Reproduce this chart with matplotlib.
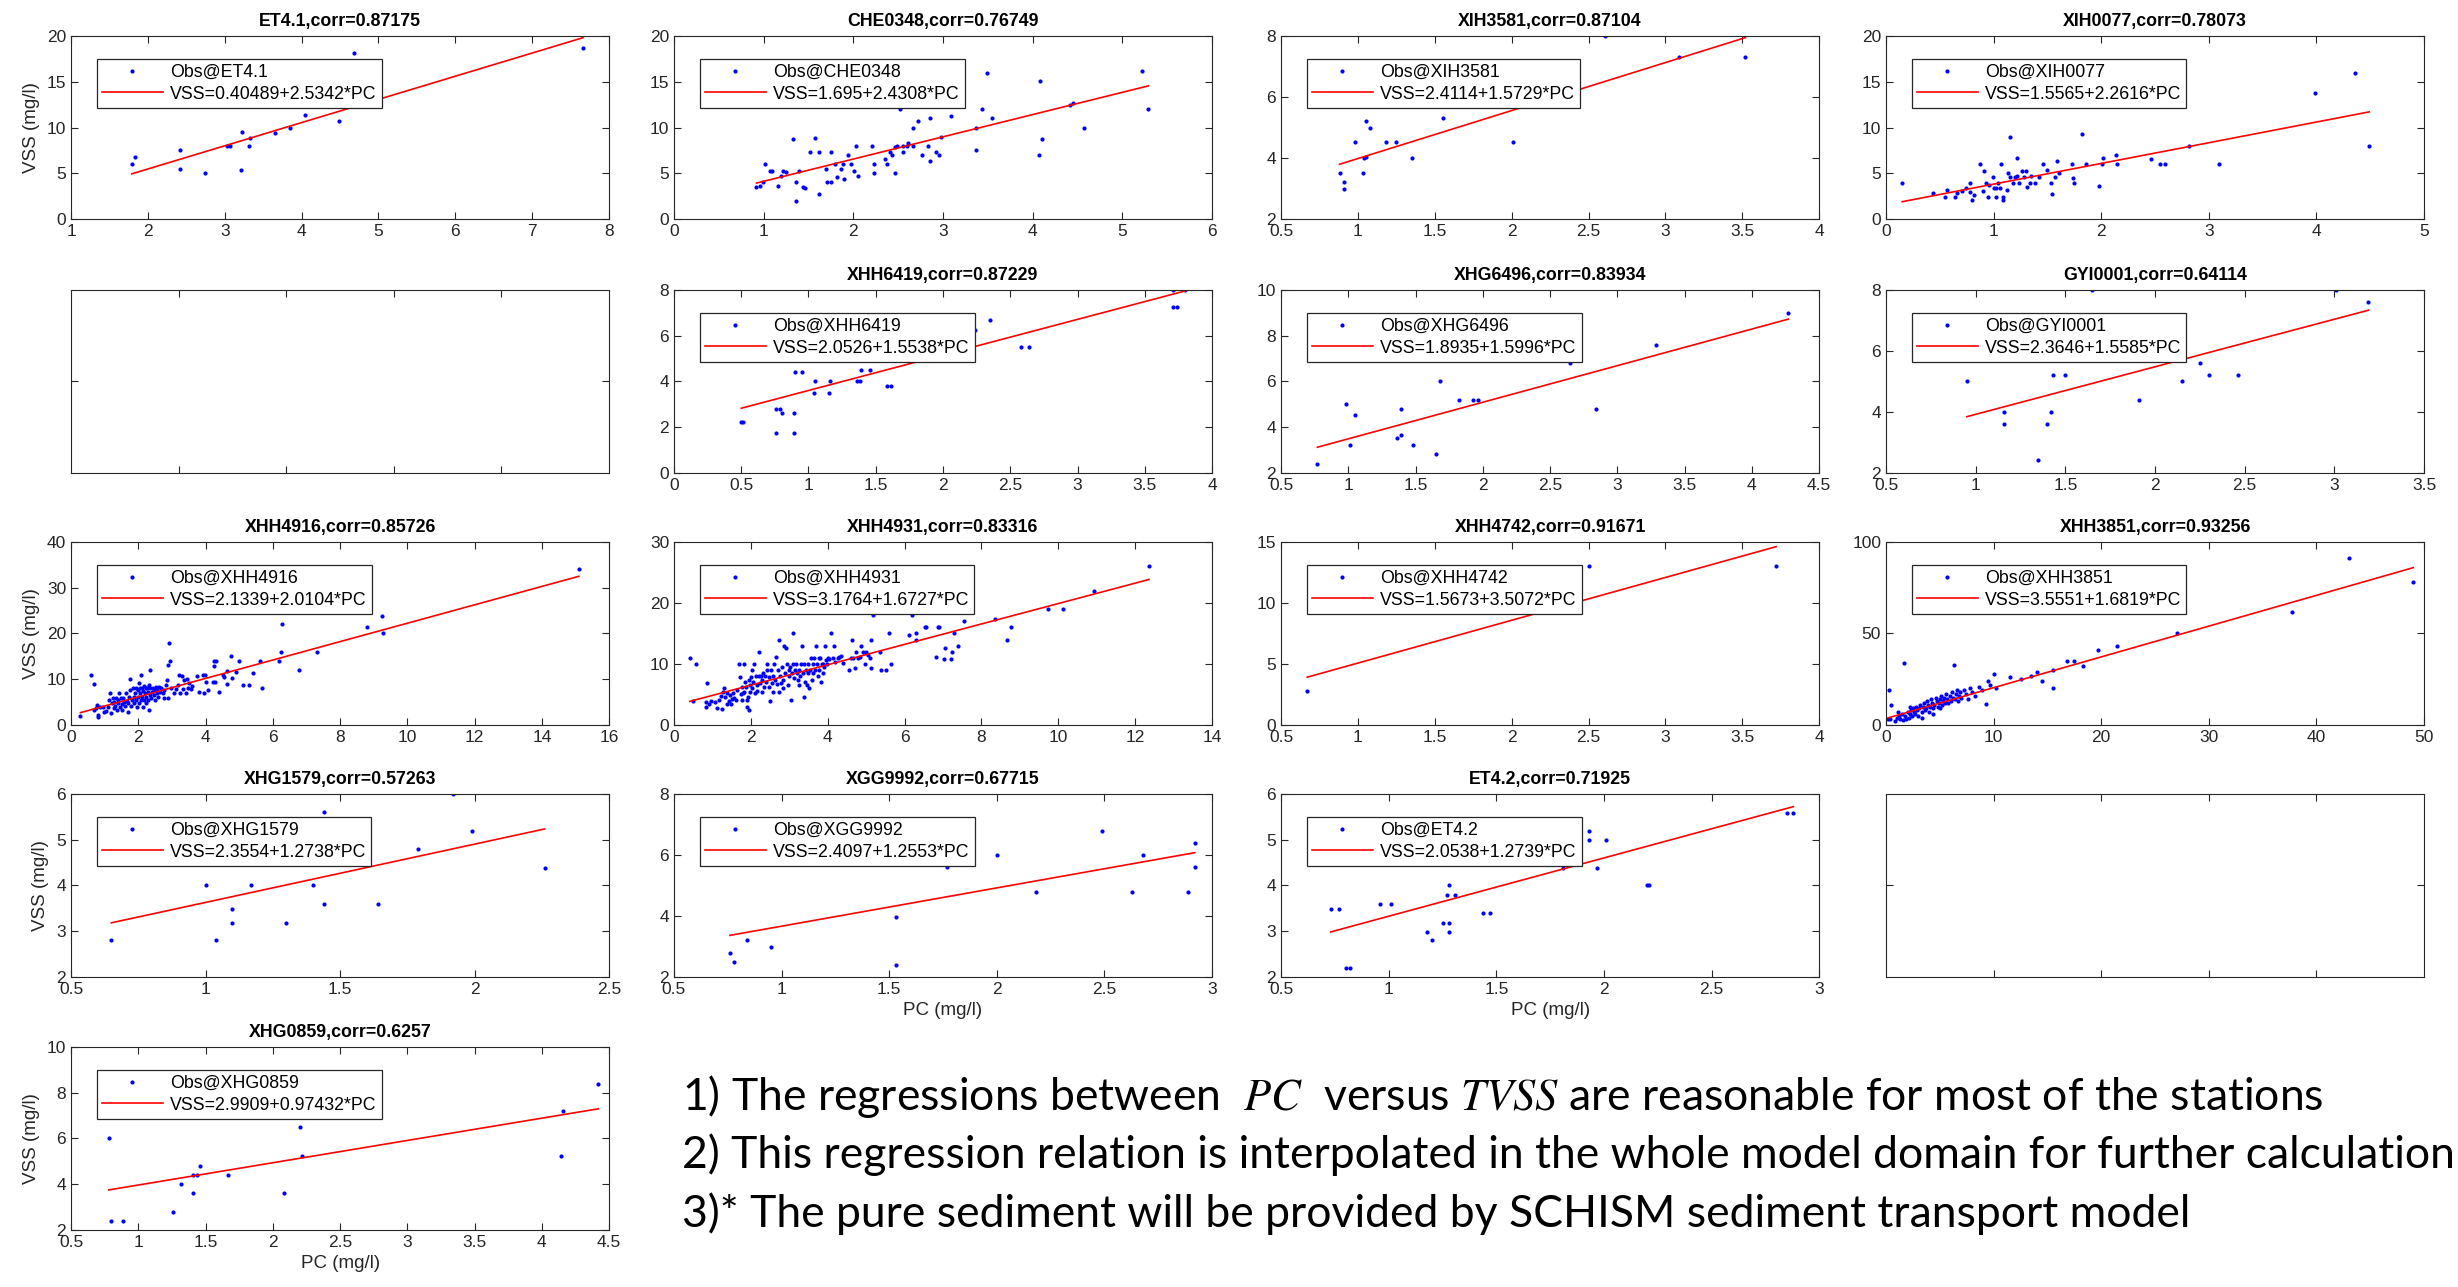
import matplotlib
matplotlib.use('Agg')
import matplotlib.pyplot as plt
from matplotlib.ticker import FormatStrFormatter, MultipleLocator

plt.rcParams['font.family'] = ['Liberation Sans', 'DejaVu Sans']
plt.rcParams['mathtext.fontset'] = 'stix'

et41 = [(1.79, 6.03), (1.83, 6.76), (2.42, 7.53), (2.42, 5.52), (2.74, 5.0), (3.03, 8.0),
        (3.07, 8.0), (3.22, 9.54), (3.21, 5.34), (3.32, 8.0), (3.33, 8.85), (3.66, 9.36),
        (3.85, 10.0), (4.05, 11.33), (4.48, 10.68), (4.68, 18.1), (7.66, 18.7)]
che0348 = [(0.92, 3.55), (0.96, 3.6), (1.01, 6.03), (0.99, 4.1), (1.07, 5.3), (1.09, 5.3),
           (1.16, 3.6), (1.22, 5.3), (1.19, 4.75), (1.25, 5.1), (1.33, 8.74), (1.36, 4.1),
           (1.36, 2.0), (1.39, 5.27), (1.44, 3.55), (1.46, 3.36), (1.52, 7.28), (1.57, 8.85),
           (1.62, 7.28), (1.62, 2.74), (1.69, 5.52), (1.71, 4.1), (1.75, 4.1), (1.75, 7.28),
           (1.80, 6.03), (1.82, 4.64), (1.86, 5.52), (1.89, 6.03), (1.90, 4.39), (1.94, 7.02),
           (1.97, 6.03), (2.01, 5.3), (2.03, 8.0), (2.05, 4.72), (2.21, 8.0), (2.23, 6.03),
           (2.23, 5.0), (2.35, 6.55), (2.38, 6.03), (2.41, 7.28), (2.43, 7.02), (2.47, 7.86),
           (2.47, 5.0), (2.49, 8.0), (2.52, 12.5), (2.52, 12.03), (2.55, 7.28), (2.55, 8.0),
           (2.60, 8.0), (2.61, 8.3), (2.66, 8.0), (2.66, 10.0), (2.72, 10.68), (2.77, 7.02),
           (2.83, 8.0), (2.86, 6.33), (2.86, 11.04), (2.92, 7.28), (2.96, 7.02), (2.98, 9.0),
           (3.09, 11.3), (3.37, 7.57), (3.37, 10.0), (3.43, 12.03), (3.49, 16.0), (3.55, 11.04),
           (4.07, 7.02), (4.08, 15.06), (4.10, 8.74), (4.42, 12.5), (4.45, 12.7), (4.57, 10.0),
           (5.22, 16.2), (5.29, 12.03)]
xih3581 = [(0.88, 3.5), (0.91, 3.2), (0.91, 3.0), (0.98, 4.51), (1.03, 3.5), (1.04, 4.0),
           (1.05, 4.05), (1.05, 5.2), (1.08, 5.0), (1.18, 4.51), (1.25, 4.51), (1.35, 4.0),
           (1.55, 5.31), (2.01, 4.51), (2.61, 8.0), (3.09, 7.31), (3.52, 7.31)]
xih0077 = [(0.15, 3.99), (0.44, 2.8), (0.55, 2.45), (0.57, 3.18), (0.64, 2.45), (0.66, 2.9),
           (0.71, 3.1), (0.74, 3.36), (0.78, 3.0), (0.78, 3.99), (0.80, 2.08), (0.82, 2.63),
           (0.87, 6.03), (0.90, 3.1), (0.91, 5.3), (0.93, 3.99), (0.95, 2.45), (0.96, 3.73),
           (0.99, 4.64), (1.00, 3.36), (1.02, 2.45), (1.02, 3.36), (1.04, 3.99), (1.06, 3.36),
           (1.07, 6.03), (1.09, 2.08), (1.09, 2.45), (1.12, 3.18), (1.13, 5.0), (1.15, 4.64),
           (1.15, 9.0), (1.18, 3.99), (1.20, 4.64), (1.22, 4.75), (1.22, 6.65), (1.24, 3.99),
           (1.26, 5.3), (1.28, 4.64), (1.30, 5.2), (1.31, 3.55), (1.34, 3.99), (1.35, 4.72),
           (1.38, 3.99), (1.42, 4.64), (1.46, 6.03), (1.50, 5.37), (1.53, 3.99), (1.54, 2.74),
           (1.57, 4.64), (1.59, 6.33), (1.61, 5.0), (1.73, 6.03), (1.74, 4.46), (1.75, 3.99),
           (1.82, 9.32), (1.86, 6.03), (1.98, 3.62), (2.01, 6.03), (2.02, 6.65), (2.14, 7.0),
           (2.15, 6.03), (2.46, 6.55), (2.55, 6.03), (2.59, 6.03), (2.82, 8.0), (3.09, 6.03),
           (3.99, 13.8), (4.36, 16.0), (4.49, 8.0)]
xhh6419 = [(0.50, 2.21), (0.51, 2.21), (0.67, 4.99), (0.76, 2.81), (0.79, 2.81), (0.80, 2.62),
           (0.76, 1.76), (0.89, 2.62), (0.89, 1.76), (0.90, 4.41), (0.95, 4.41), (1.04, 3.51),
           (1.05, 4.0), (1.15, 3.51), (1.16, 4.0), (1.36, 4.0), (1.38, 4.0), (1.39, 4.51),
           (1.46, 4.51), (1.58, 3.78), (1.61, 3.78), (2.18, 6.69), (2.24, 6.27), (2.35, 6.69),
           (2.58, 5.51), (2.64, 5.51), (3.71, 7.27), (3.74, 7.27), (3.71, 8.0), (3.80, 8.0)]
xhg6496 = [(0.77, 2.41), (0.98, 5.03), (1.01, 3.21), (1.05, 4.52), (1.36, 3.53), (1.39, 3.64),
           (1.39, 4.81), (1.48, 3.21), (1.65, 2.81), (1.68, 6.0), (1.82, 5.2), (1.93, 5.2),
           (1.96, 5.2), (2.65, 6.8), (2.84, 4.81), (3.29, 7.6), (4.27, 9.01)]
gyi0001 = [(0.95, 5.0), (1.16, 4.0), (1.16, 3.61), (1.35, 2.41), (1.40, 3.61), (1.42, 4.0),
           (1.43, 5.2), (1.50, 5.2), (1.65, 8.0), (1.91, 4.4), (2.15, 5.0), (2.25, 5.6),
           (2.30, 5.2), (2.46, 5.2), (3.01, 8.0), (3.19, 7.62)]
xhh4916 = [(0.28, 2.04), (0.59, 11.0), (0.69, 9.05), (0.69, 3.3), (0.74, 3.6), (0.77, 4.4),
           (0.79, 2.2), (0.81, 1.7), (0.87, 4.0), (0.94, 3.9), (0.99, 2.9), (1.04, 3.1),
           (1.09, 4.0), (1.14, 5.5), (1.17, 6.9), (1.19, 2.6), (1.21, 4.7), (1.24, 5.8),
           (1.27, 3.6), (1.29, 5.1), (1.32, 4.2), (1.34, 6.0), (1.37, 3.3), (1.39, 5.5),
           (1.41, 4.7), (1.44, 6.9), (1.47, 3.9), (1.49, 5.8), (1.52, 4.6), (1.53, 3.3),
           (1.56, 6.0), (1.58, 5.1), (1.61, 4.2), (1.63, 6.9), (1.66, 5.3), (1.68, 2.9),
           (1.70, 4.7), (1.73, 6.2), (1.75, 10.0), (1.76, 7.7), (1.78, 4.2), (1.80, 5.5),
           (1.83, 8.0), (1.86, 6.2), (1.88, 4.7), (1.90, 6.9), (1.92, 8.0), (1.94, 5.5),
           (1.96, 4.0), (1.98, 7.7), (2.00, 6.2), (2.02, 9.1), (2.03, 4.7), (2.04, 8.0),
           (2.06, 6.9), (2.08, 10.9), (2.08, 5.5), (2.10, 8.0), (2.12, 6.2), (2.13, 4.0),
           (2.14, 7.5), (2.16, 8.5), (2.18, 5.5), (2.20, 6.9), (2.22, 8.0), (2.23, 4.7),
           (2.24, 6.2), (2.26, 8.0), (2.28, 7.3), (2.30, 5.5), (2.32, 3.3), (2.33, 8.8),
           (2.34, 6.6), (2.36, 12.0), (2.36, 8.0), (2.38, 5.8), (2.40, 7.3), (2.43, 8.0),
           (2.46, 6.6), (2.48, 7.7), (2.50, 5.5), (2.52, 8.2), (2.55, 6.9), (2.57, 7.7),
           (2.59, 6.2), (2.62, 8.4), (2.65, 7.3), (2.67, 8.0), (2.72, 6.9), (2.75, 6.0),
           (2.77, 7.7), (2.82, 8.8), (2.85, 9.9), (2.87, 13.0), (2.89, 6.0), (2.92, 18.0),
           (2.95, 13.9), (2.97, 8.0), (3.07, 6.9), (3.12, 7.8), (3.17, 8.8), (3.22, 10.9),
           (3.25, 6.9), (3.29, 10.6), (3.32, 7.8), (3.37, 9.9), (3.42, 6.9), (3.45, 10.0),
           (3.49, 8.0), (3.52, 9.1), (3.56, 7.8), (3.61, 8.5), (3.76, 10.6), (3.81, 7.3),
           (3.91, 10.9), (3.96, 6.9), (3.98, 10.9), (4.01, 9.3), (4.06, 7.7), (4.21, 9.3),
           (4.24, 13.9), (4.26, 12.8), (4.28, 9.3), (4.31, 13.9), (4.39, 7.3), (4.51, 10.9),
           (4.55, 10.4), (4.63, 9.0), (4.65, 11.7), (4.75, 15.0), (4.80, 10.2), (4.90, 11.5),
           (4.98, 13.9), (5.10, 8.8), (5.30, 8.8), (5.40, 11.3), (5.61, 13.9), (5.69, 8.0),
           (6.17, 14.0), (6.24, 15.9), (6.28, 22.0), (6.78, 12.0), (7.30, 15.9), (8.79, 21.4),
           (9.24, 23.9), (9.28, 20.0), (15.1, 34.0)]
xhh4931 = [(0.41, 11.0), (0.57, 10.0), (0.50, 3.96), (0.83, 3.8), (0.87, 6.9), (0.84, 2.97),
           (0.91, 3.5), (0.96, 3.96), (1.07, 3.8), (1.13, 2.86), (1.17, 4.07), (1.22, 4.73),
           (1.24, 2.69), (1.28, 5.44), (1.30, 5.99), (1.33, 4.62), (1.37, 3.5), (1.39, 5.27),
           (1.42, 3.96), (1.45, 4.89), (1.48, 3.4), (1.50, 4.18), (1.54, 5.16), (1.57, 4.5),
           (1.61, 4.07), (1.65, 5.71), (1.68, 10.0), (1.71, 7.9), (1.74, 5.05), (1.77, 6.26),
           (1.78, 4.07), (1.80, 5.16), (1.83, 10.0), (1.83, 5.44), (1.85, 7.09), (1.87, 6.15),
           (1.89, 4.07), (1.90, 2.97), (1.92, 4.62), (1.94, 2.53), (1.96, 7.36), (1.97, 5.44),
           (1.99, 6.54), (2.00, 7.9), (2.03, 5.99), (2.04, 9.0), (2.06, 7.09), (2.09, 10.0),
           (2.11, 5.16), (2.13, 8.0), (2.15, 6.54), (2.17, 5.6), (2.20, 12.03), (2.22, 8.0),
           (2.23, 6.92), (2.26, 8.0), (2.29, 5.44), (2.30, 7.36), (2.32, 8.46), (2.35, 6.26),
           (2.37, 8.0), (2.39, 7.09), (2.41, 9.0), (2.43, 10.0), (2.46, 7.8), (2.48, 6.26),
           (2.50, 3.96), (2.52, 9.0), (2.54, 6.81), (2.57, 8.0), (2.58, 5.44), (2.61, 10.0),
           (2.63, 7.36), (2.65, 11.1), (2.67, 6.7), (2.70, 9.0), (2.72, 13.96), (2.74, 5.44),
           (2.76, 8.0), (2.78, 6.81), (2.81, 9.56), (2.83, 7.36), (2.84, 5.99), (2.87, 12.97),
           (2.90, 8.46), (2.91, 12.58), (2.93, 10.0), (2.96, 6.54), (2.98, 9.0), (3.00, 8.0),
           (3.02, 9.56), (3.04, 4.07), (3.07, 8.46), (3.09, 10.0), (3.10, 15.05), (3.13, 7.64),
           (3.16, 9.0), (3.17, 10.0), (3.19, 8.46), (3.22, 7.36), (3.24, 9.0), (3.26, 6.54),
           (3.28, 8.0), (3.30, 10.0), (3.33, 12.97), (3.35, 8.57), (3.37, 4.62), (3.39, 10.0),
           (3.42, 7.09), (3.43, 9.0), (3.45, 6.54), (3.48, 8.46), (3.50, 10.0), (3.52, 5.99),
           (3.54, 9.0), (3.57, 10.93), (3.59, 7.36), (3.61, 10.0), (3.63, 8.46), (3.65, 10.93),
           (3.68, 9.0), (3.70, 12.97), (3.72, 10.0), (3.74, 8.0), (3.77, 10.93), (3.78, 9.0),
           (3.80, 10.93), (3.83, 7.09), (3.85, 10.0), (3.87, 8.46), (3.89, 10.0), (3.91, 9.45),
           (3.94, 12.97), (3.96, 10.66), (3.97, 10.0), (4.00, 10.93), (4.04, 10.77), (4.09, 15.05),
           (4.13, 10.93), (4.17, 12.97), (4.20, 10.38), (4.26, 10.93), (4.30, 11.2), (4.35, 11.3),
           (4.39, 10.1), (4.55, 9.0), (4.61, 10.93), (4.63, 13.96), (4.67, 10.93), (4.70, 9.29),
           (4.74, 12.03), (4.78, 10.93), (4.84, 11.1), (4.87, 12.97), (4.91, 12.03), (4.96, 10.0),
           (5.00, 12.03), (5.04, 11.48), (5.09, 10.93), (5.13, 13.96), (5.13, 9.29), (5.19, 18.08),
           (5.35, 12.03), (5.39, 9.0), (5.52, 9.0), (5.59, 15.05), (5.65, 10.0), (6.11, 14.78),
           (6.20, 18.08), (6.29, 15.05), (6.30, 13.96), (6.52, 16.04), (6.57, 16.04), (6.70, 19.0),
           (6.83, 11.2), (6.87, 16.04), (6.90, 16.04), (7.02, 10.77), (7.04, 12.58), (7.22, 10.77),
           (7.24, 12.03), (7.28, 15.05), (7.39, 12.97), (7.54, 16.98), (8.35, 17.36), (8.67, 13.96),
           (8.76, 16.04), (9.74, 19.0), (10.11, 19.0), (10.93, 22.03), (12.36, 26.0)]
xhh4742 = [(0.67, 2.8), (2.5, 13.0), (3.72, 13.0)]
xhh3851 = [(0.2, 3.5), (0.3, 19), (0.5, 11), (0.4, 3), (0.8, 2), (1.0, 4), (1.1, 7), (1.2, 5),
           (1.3, 3), (1.5, 6), (1.6, 2.5), (1.7, 34), (1.8, 5), (1.9, 3), (2.0, 7), (2.1, 4),
           (2.2, 6), (2.2, 10), (2.3, 8), (2.4, 5), (2.5, 9), (2.6, 7), (2.7, 6), (2.8, 10),
           (2.9, 8), (3.0, 5), (3.1, 9), (3.2, 11), (3.3, 7), (3.3, 4), (3.4, 10), (3.5, 12),
           (3.6, 8), (3.7, 9), (3.8, 13), (3.9, 11), (4.0, 7), (4.1, 10), (4.2, 14), (4.3, 12),
           (4.4, 9), (4.4, 6), (4.5, 11), (4.6, 15), (4.7, 13), (4.8, 10), (4.9, 12), (5.0, 14),
           (5.0, 9), (5.1, 16), (5.2, 11), (5.3, 13), (5.4, 15), (5.5, 12), (5.6, 17), (5.7, 14),
           (5.8, 12), (5.9, 16), (6.0, 13), (6.1, 18), (6.2, 15), (6.3, 33), (6.4, 14), (6.5, 17),
           (6.6, 19), (6.7, 13), (6.8, 16), (6.9, 18), (7.0, 15), (7.2, 19), (7.4, 17), (7.6, 14),
           (7.8, 20), (8.0, 18), (8.3, 16), (8.6, 21), (8.9, 19), (9.3, 11.5), (9.5, 24), (9.7, 22),
           (10.0, 28), (10.2, 20), (11.5, 26), (12.5, 25), (13.5, 27), (14.0, 29), (14.5, 24),
           (15.5, 20), (15.5, 30), (16.8, 35), (17.5, 35), (18.3, 32), (19.7, 41), (21.5, 43),
           (27.0, 50), (37.7, 62), (43.0, 91), (49.0, 78)]
xhg1579 = [(0.65, 2.8), (1.0, 4.0), (1.04, 2.8), (1.10, 3.49), (1.10, 3.19), (1.17, 4.0),
           (1.30, 3.19), (1.40, 4.0), (1.44, 3.59), (1.44, 5.61), (1.53, 4.49), (1.64, 3.59),
           (1.79, 4.79), (1.92, 6.0), (1.99, 5.2), (2.26, 4.39)]
xgg9992 = [(0.76, 2.79), (0.78, 2.49), (0.84, 3.2), (0.95, 2.99), (1.53, 2.39), (1.53, 3.98),
           (1.77, 5.59), (2.0, 5.99), (2.18, 4.8), (2.49, 6.79), (2.63, 4.8), (2.68, 5.99),
           (2.89, 4.8), (2.92, 5.59), (2.92, 6.39)]
et42 = [(0.73, 3.49), (0.77, 3.49), (0.80, 2.2), (0.82, 2.2), (0.96, 3.59), (1.01, 3.59),
        (1.18, 2.99), (1.20, 2.8), (1.25, 3.19), (1.28, 3.19), (1.27, 3.8), (1.28, 4.0),
        (1.28, 2.99), (1.31, 3.8), (1.44, 3.4), (1.47, 3.4), (1.81, 4.39), (1.93, 5.2),
        (1.93, 4.99), (2.01, 4.99), (1.97, 4.39), (2.20, 4.0), (2.21, 4.0), (2.85, 5.59),
        (2.88, 5.59)]
xhg0859 = [(0.78, 6.0), (0.80, 2.4), (0.89, 2.4), (1.26, 2.79), (1.32, 4.0), (1.41, 3.6),
           (1.41, 4.39), (1.44, 4.39), (1.46, 4.8), (1.67, 4.39), (2.08, 3.6), (2.20, 6.51),
           (2.22, 5.22), (4.14, 5.22), (4.16, 7.21), (4.42, 8.4)]

stations = ['ET4.1', 'CHE0348', 'XIH3581', 'XIH0077', 'XHH6419', 'XHG6496', 'GYI0001',
            'XHH4916', 'XHH4931', 'XHH4742', 'XHH3851', 'XHG1579', 'XGG9992', 'ET4.2', 'XHG0859']
corrs = ['0.87175', '0.76749', '0.87104', '0.78073', '0.87229', '0.83934', '0.64114',
         '0.85726', '0.83316', '0.91671', '0.93256', '0.57263', '0.67715', '0.71925', '0.6257']
intercepts = [0.40489, 1.695, 2.4114, 1.5565, 2.0526, 1.8935, 2.3646,
              2.1339, 3.1764, 1.5673, 3.5551, 2.3554, 2.4097, 2.0538, 2.9909]
slopes = [2.5342, 2.4308, 1.5729, 2.2616, 1.5538, 1.5996, 1.5585,
          2.0104, 1.6727, 3.5072, 1.6819, 1.2738, 1.2553, 1.2739, 0.97432]
obs = [et41, che0348, xih3581, xih0077, xhh6419, xhg6496, gyi0001,
       xhh4916, xhh4931, xhh4742, xhh3851, xhg1579, xgg9992, et42, xhg0859]
# axis ranges: (xmin, xmax, xstep, ymin, ymax, ystep)
ranges = [(1, 8, 1, 0, 20, 5), (0, 6, 1, 0, 20, 5), (0.5, 4, 0.5, 2, 8, 2), (0, 5, 1, 0, 20, 5),
          (0, 4, 0.5, 0, 8, 2), (0.5, 4.5, 0.5, 2, 10, 2), (0.5, 3.5, 0.5, 2, 8, 2),
          (0, 16, 2, 0, 40, 10), (0, 14, 2, 0, 30, 10), (0.5, 4, 0.5, 0, 15, 5), (0, 50, 10, 0, 100, 50),
          (0.5, 2.5, 0.5, 2, 6, 1), (0.5, 3, 0.5, 2, 8, 2), (0.5, 3, 0.5, 2, 6, 1), (0.5, 4.5, 0.5, 2, 10, 2)]
# grid slot (row, col) of each station; (1,0) and (3,3) stay empty
slots = [(0, 0), (0, 1), (0, 2), (0, 3), (1, 1), (1, 2), (1, 3),
         (2, 0), (2, 1), (2, 2), (2, 3), (3, 0), (3, 1), (3, 2), (4, 0)]
xlabel_slots = [(3, 1), (3, 2), (4, 0)]
notes = ['1) The regressions between  $PC$  versus $TVSS$ are reasonable for most of the stations',
         '2) This regression relation is interpolated in the whole model domain for further calculation',
         '3)* The pure sediment will be provided by SCHISM sediment transport model']

lefts = [0.0289, 0.2742, 0.5212, 0.7673]
bottoms = [0.8298, 0.6325, 0.4367, 0.2409, 0.0443]
W, H = 0.2189, 0.1422
dark = '0.15'

fig = plt.figure(figsize=(24.58, 12.87), dpi=100)


def style_axes(ax):
    for sp in ax.spines.values():
        sp.set_color(dark)
        sp.set_linewidth(0.8)
    ax.tick_params(direction='in', top=True, right=True, length=5, width=0.8,
                   labelsize=12.5, colors=dark)


for i, name in enumerate(stations):
    r, c = slots[i]
    ax = fig.add_axes([lefts[c], bottoms[r], W, H])
    xs = [p[0] for p in obs[i]]
    ys = [p[1] for p in obs[i]]
    a, b = intercepts[i], slopes[i]
    ax.plot(xs, ys, linestyle='none', marker='o', ms=3, mew=0, color='#0000ff',
            label='Obs@' + name)
    fx = [min(xs), max(xs)]
    ax.plot(fx, [a + b * v for v in fx], color='#ff0000', lw=1.2,
            label='VSS=' + str(a) + '+' + str(b) + '*PC')
    x0, x1, xs_, y0, y1, ys_ = ranges[i]
    ax.set_xlim(x0, x1)
    ax.set_ylim(y0, y1)
    ax.xaxis.set_major_locator(MultipleLocator(xs_))
    ax.yaxis.set_major_locator(MultipleLocator(ys_))
    ax.xaxis.set_major_formatter(FormatStrFormatter('%g'))
    ax.yaxis.set_major_formatter(FormatStrFormatter('%g'))
    style_axes(ax)
    ax.set_title(name + ',corr=' + corrs[i], fontsize=12.8, fontweight='bold', pad=7)
    if c == 0:
        ax.set_ylabel('VSS (mg/l)', fontsize=13.5, color=dark, labelpad=5)
    if (r, c) in xlabel_slots:
        ax.set_xlabel('PC (mg/l)', fontsize=13.5, color=dark)
    leg = ax.legend(loc='upper left', bbox_to_anchor=(0.048, 0.875), fontsize=12.8,
                    fancybox=False, framealpha=1, edgecolor=dark, borderpad=0.3,
                    labelspacing=0.25, handlelength=3.4, handletextpad=0.4,
                    borderaxespad=0, numpoints=1)
    leg.get_frame().set_linewidth(0.9)

# the two empty panels
for r, c in [(1, 0), (3, 3)]:
    ax = fig.add_axes([lefts[c], bottoms[r], W, H])
    ax.set_xticks([0.2, 0.4, 0.6, 0.8])
    ax.set_yticks([0.5])
    ax.set_xticklabels([])
    ax.set_yticklabels([])
    style_axes(ax)

# bullet notes, font size fitted so the second line spans to the right edge
base_y = [0.1375, 0.0925, 0.0466]
texts = [fig.text(0.2775, y, s, fontsize=30, family=['Lato', 'DejaVu Sans'], va='baseline')
         for s, y in zip(notes, base_y)]
fig.canvas.draw()
wpx = texts[1].get_window_extent().width
fs = 30 * 1772 / wpx
for t in texts:
    t.set_fontsize(fs)

fig.savefig('out.png', dpi=100)
